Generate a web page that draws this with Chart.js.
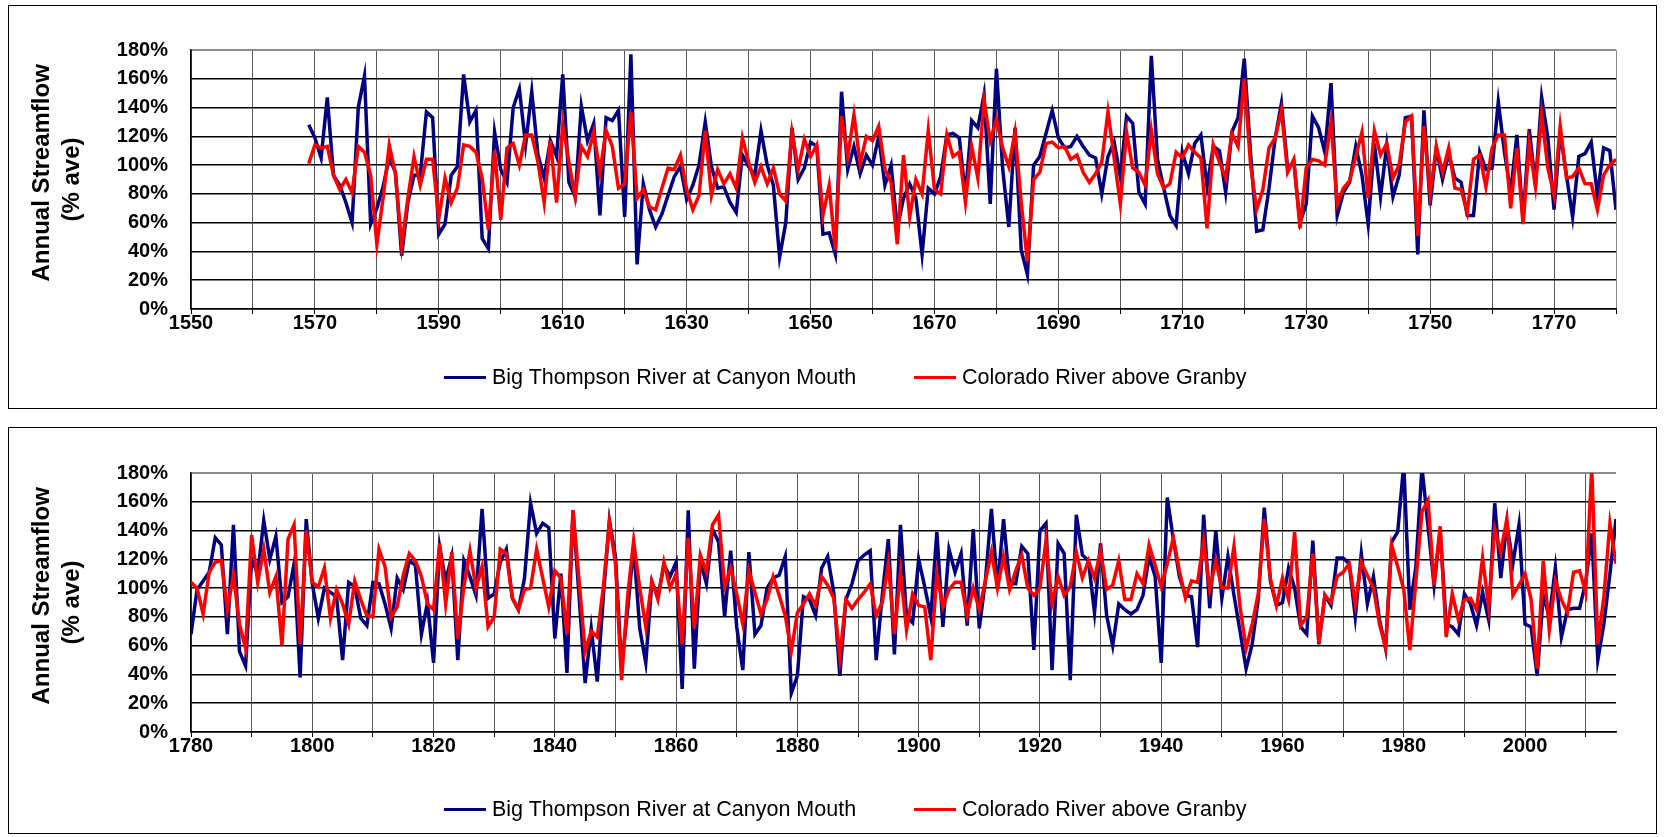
<!DOCTYPE html>
<html>
<head>
<meta charset="utf-8">
<script src="https://cdn.jsdelivr.net/npm/chart.js@4.4.1/dist/chart.umd.min.js"></script>
<style>
  html, body { margin: 0; padding: 0; background: #fff; }
  body { width: 1665px; height: 837px; position: relative; overflow: hidden; }
  .panel { position: absolute; left: 8px; width: 1647px; border: 1px solid #000; background: #fff; }
  #topPanel { top: 5px; height: 402px; }
  #bottomPanel { top: 427px; height: 405px; }
  .legend {
    position: absolute; left: 435px; display: flex; align-items: center;
    font: 21.5px "Liberation Sans", Arial, sans-serif; color: #000; white-space: nowrap; line-height: 24px;
  }
  .legend .item { display: flex; align-items: center; margin-right: 58px; }
  .legend .swatch { display: inline-block; width: 42px; height: 3px; margin-right: 6px; }
</style>
</head>
<body>
<div class="panel" id="topPanel">
  <canvas id="earlyChart"></canvas>
  <div class="legend" id="earlyLegend" style="top: 359px;"></div>
</div>
<div class="panel" id="bottomPanel">
  <canvas id="lateChart"></canvas>
  <div class="legend" id="lateLegend" style="top: 369px;"></div>
</div>
<script>
// series names and colours
const seriesNames = ['Big Thompson River at Canyon Mouth', 'Colorado River above Granby'];
const seriesColors = ['#000080', '#ff0000'];

// y axis ticks (% of average)
const yTicks = [0, 20, 40, 60, 80, 100, 120, 140, 160, 180];

// top panel: 1569-1780, annual flow in % of average
const earlyStart = 1569;
const earlyRange = [1550, 1780];
const bigThompsonEarly = [
  128,
  119, 105, 147, 93, 86, 74, 60, 140, 162, 59,
  70, 85, 105, 95, 37, 74, 93, 93, 137, 133,
  52, 59, 93, 99, 163, 130, 138, 49, 42, 123,
  97, 88, 140, 153, 114, 151, 107, 91, 117, 106,
  163, 88, 78, 141, 117, 129, 65, 133, 131, 138,
  64, 177, 31, 87, 69, 57, 66, 79, 92, 99,
  76, 86, 100, 130, 99, 84, 85, 74, 67, 107,
  99, 93, 124, 100, 86, 36, 60, 126, 90, 98,
  116, 113, 52, 53, 38, 151, 97, 113, 94, 107,
  100, 120, 86, 100, 56, 77, 87, 77, 38, 84,
  80, 92, 121, 122, 119, 79, 131, 126, 149, 73,
  167, 98, 57, 126, 41, 24, 100, 106, 122, 138,
  119, 112, 113, 120, 113, 107, 105, 80, 106, 116,
  92, 134, 129, 81, 73, 176, 104, 84, 65, 58,
  109, 94, 115, 121, 85, 113, 110, 81, 123, 133,
  174, 109, 54, 55, 84, 119, 143, 98, 102, 60,
  73, 134, 126, 109, 157, 65, 81, 88, 113, 93,
  59, 115, 78, 114, 78, 93, 133, 134, 38, 138,
  72, 112, 90, 108, 91, 88, 65, 65, 109, 97,
  98, 144, 109, 81, 121, 62, 125, 86, 147, 119,
  69, 123, 93, 64, 106, 108, 116, 79, 112, 110,
  69
];
const coloradoEarly = [
  101,
  114, 112, 113, 93, 83, 90, 81, 113, 109, 93,
  45, 77, 114, 94, 44, 77, 106, 86, 104, 104,
  63, 91, 74, 84, 114, 113, 109, 91, 55, 110,
  62, 112, 115, 100, 121, 121, 102, 74, 117, 74,
  128, 102, 78, 113, 106, 123, 95, 124, 113, 84,
  87, 137, 77, 83, 71, 69, 84, 98, 97, 107,
  83, 69, 79, 124, 79, 97, 87, 94, 84, 119,
  102, 88, 99, 87, 98, 80, 75, 123, 97, 118,
  106, 114, 65, 86, 41, 134, 106, 135, 101, 120,
  117, 127, 97, 88, 45, 107, 64, 90, 80, 124,
  83, 80, 121, 106, 109, 74, 113, 91, 145, 117,
  132, 112, 99, 123, 74, 33, 90, 95, 115, 116,
  112, 113, 104, 107, 95, 88, 94, 102, 137, 105,
  73, 123, 98, 95, 86, 124, 94, 84, 87, 109,
  105, 114, 109, 105, 56, 114, 102, 91, 122, 113,
  160, 101, 69, 83, 112, 119, 138, 95, 104, 56,
  98, 104, 103, 100, 130, 73, 84, 89, 106, 123,
  77, 124, 107, 115, 91, 100, 130, 134, 51, 127,
  80, 113, 95, 112, 84, 83, 67, 104, 107, 85,
  112, 121, 121, 70, 112, 59, 115, 85, 135, 98,
  79, 127, 91, 92, 98, 87, 87, 69, 93, 100,
  104
];

// bottom panel: 1780-2015
const lateStart = 1780;
const lateRange = [1780, 2015];
const bigThompsonLate = [
  68, 99, 105, 111, 135, 130, 68, 144, 56, 46,
  120, 110, 147, 120, 136, 90, 94, 117, 38, 148,
  103, 79, 100, 97, 94, 50, 104, 101, 79, 74,
  104, 103, 89, 72, 107, 99, 119, 116, 68, 90,
  48, 129, 105, 122, 50, 119, 108, 95, 155, 93,
  96, 118, 127, 93, 85, 107, 159, 138, 145, 142,
  65, 110, 41, 154, 94, 34, 72, 35, 94, 147,
  122, 45, 85, 129, 72, 48, 104, 94, 116, 108,
  118, 30, 154, 44, 119, 103, 141, 132, 80, 126,
  73, 43, 125, 68, 74, 100, 107, 109, 122, 27,
  39, 94, 92, 81, 114, 122, 97, 39, 92, 103,
  119, 123, 126, 50, 95, 134, 54, 144, 80, 76,
  120, 101, 80, 139, 73, 127, 111, 124, 74, 141,
  72, 105, 155, 100, 148, 103, 103, 129, 124, 57,
  140, 145, 43, 131, 124, 36, 151, 123, 119, 83,
  131, 81, 60, 89, 85, 82, 85, 95, 122, 108,
  48, 163, 134, 108, 95, 94, 59, 151, 86, 140,
  93, 122, 95, 70, 44, 61, 92, 156, 105, 88,
  90, 114, 100, 73, 68, 133, 61, 95, 88, 121,
  121, 117, 80, 124, 89, 108, 78, 58, 132, 139,
  186, 85, 115, 184, 143, 102, 140, 75, 73, 68,
  96, 89, 74, 97, 78, 159, 107, 145, 117, 144,
  75, 73, 39, 95, 80, 114, 66, 85, 86, 86,
  104, 138, 50, 75, 110, 148
];
const coloradoLate = [
  104, 100, 82, 111, 118, 119, 85, 109, 75, 58,
  137, 104, 127, 97, 108, 60, 134, 144, 61, 140,
  104, 101, 114, 79, 99, 89, 75, 105, 92, 81,
  80, 127, 115, 80, 87, 109, 124, 119, 108, 89,
  85, 131, 89, 125, 65, 101, 126, 100, 115, 73,
  80, 127, 124, 93, 85, 99, 100, 127, 107, 87,
  112, 107, 68, 154, 105, 56, 70, 66, 101, 146,
  117, 36, 94, 133, 100, 73, 105, 92, 118, 100,
  110, 61, 135, 72, 123, 111, 144, 151, 101, 114,
  96, 75, 112, 97, 82, 92, 108, 95, 81, 56,
  83, 89, 96, 88, 108, 102, 93, 52, 92, 86,
  92, 97, 103, 81, 90, 117, 68, 111, 71, 96,
  88, 87, 50, 110, 87, 99, 104, 104, 81, 100,
  85, 105, 125, 100, 122, 99, 112, 123, 100, 95,
  100, 133, 89, 108, 95, 101, 125, 107, 119, 107,
  126, 99, 102, 119, 92, 92, 110, 103, 130, 116,
  101, 117, 135, 112, 93, 105, 104, 133, 99, 119,
  100, 100, 129, 87, 58, 75, 96, 148, 107, 88,
  107, 92, 139, 74, 80, 124, 62, 95, 90, 108,
  111, 117, 89, 118, 109, 100, 75, 59, 130, 115,
  99, 57, 105, 153, 161, 102, 143, 66, 96, 78,
  92, 93, 85, 121, 87, 141, 125, 148, 95, 102,
  110, 92, 44, 119, 71, 105, 92, 83, 111, 112,
  97, 184, 61, 94, 145, 117
];

const fontFamily = '"Liberation Sans", Arial, sans-serif';
const tickFont = { family: fontFamily, size: 20, weight: 'bold' };

// year -> value points for a linear x axis
function toPoints(startYear, values) {
  return values.map((v, i) => ({ x: startYear + i, y: v }));
}

function makePanel(canvas, startYear, blue, red, range, pad) {
  const [xMin, xMax] = range;
  const datasets = [
    { label: seriesNames[0], data: toPoints(startYear, blue), borderColor: seriesColors[0],
      backgroundColor: seriesColors[0], borderWidth: 3.5, pointRadius: 0, tension: 0, order: 1 },
    { label: seriesNames[1], data: toPoints(startYear, red), borderColor: seriesColors[1],
      backgroundColor: seriesColors[1], borderWidth: 3.5, pointRadius: 0, tension: 0, order: 0 }
  ];
  return new Chart(canvas, {
    type: 'line',
    data: { datasets },
    options: {
      responsive: true,
      maintainAspectRatio: false,
      animation: false,
      layout: { padding: { top: pad.top, right: 40, bottom: pad.bottom, left: 0 } },
      plugins: {
        legend: { display: false },
        tooltip: { enabled: false }
      },
      scales: {
        x: {
          type: 'linear',
          min: xMin,
          max: xMax,
          afterFit: s => { s.height = 40; },
          afterBuildTicks: s => {
            s.ticks = [];
            for (let y = xMin; y <= xMax; y += 10) s.ticks.push({ value: y });
          },
          ticks: {
            autoSkip: false,
            maxRotation: 0,
            padding: -3,
            color: '#000',
            font: tickFont,
            callback: v => ((v - xMin) % 20 === 0 ? String(v) : '')
          },
          grid: {
            color: ctx => (ctx.tick && ctx.tick.value === xMax ? '#8c8c8c' : '#5a5a5a'),
            lineWidth: 1,
            tickLength: 5,
            tickColor: '#000'
          },
          border: { color: '#000', width: 1.5 }
        },
        y: {
          min: 0,
          max: 180,
          afterFit: s => { s.width = 182; },
          afterBuildTicks: s => { s.ticks = yTicks.map(v => ({ value: v })); },
          ticks: {
            padding: 23,
            color: '#000',
            font: tickFont,
            callback: v => v + '%'
          },
          grid: {
            color: ctx => (ctx.tick && ctx.tick.value === 180 ? '#8c8c8c' : '#000'),
            lineWidth: ctx => (ctx.tick && ctx.tick.value === 180 ? 2 : 1.5),
            drawTicks: false
          },
          border: { color: '#000', width: 1.5 },
          title: {
            display: true,
            // leading spaces lift the first line a little above the axis centre
            text: ['  Annual Streamflow', '(% ave)'],
            color: '#000',
            font: { family: fontFamily, size: 24, weight: 'bold', lineHeight: 1.25 },
            padding: { top: 18, bottom: 0 }
          }
        }
      }
    }
  });
}

// legend drawn as html under each chart
function buildLegend(el) {
  seriesNames.forEach((name, i) => {
    const item = document.createElement('span');
    item.className = 'item';
    const swatch = document.createElement('span');
    swatch.className = 'swatch';
    swatch.style.background = seriesColors[i];
    item.appendChild(swatch);
    item.appendChild(document.createTextNode(name));
    el.appendChild(item);
  });
}

makePanel(document.getElementById('earlyChart'), earlyStart, bigThompsonEarly, coloradoEarly,
  earlyRange, { top: 44, bottom: 59 });
makePanel(document.getElementById('lateChart'), lateStart, bigThompsonLate, coloradoLate,
  lateRange, { top: 45, bottom: 61 });
buildLegend(document.getElementById('earlyLegend'));
buildLegend(document.getElementById('lateLegend'));
</script>
</body>
</html>
